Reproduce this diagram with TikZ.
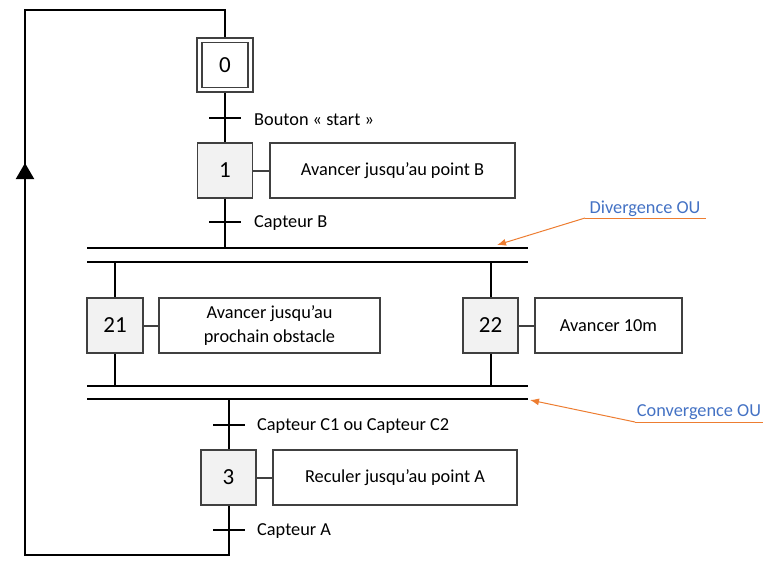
\documentclass[tikz,border=0pt]{standalone}
\usepackage{fontspec}
\setmainfont{Carlito}
\usetikzlibrary{arrows.meta}
\definecolor{boxgray}{HTML}{404040}
\definecolor{stepfill}{HTML}{F2F2F2}
\definecolor{annblue}{HTML}{4472C4}
\definecolor{annorange}{HTML}{ED7D31}
\tikzset{
  stepbox/.style={draw=boxgray, line width=1.2pt, fill=stepfill, minimum width=55pt, minimum height=55pt, inner sep=0pt, font=\fontsize{23}{26}\selectfont},
  actbox/.style={draw=boxgray, line width=1.2pt, fill=white, minimum height=55pt, inner sep=0pt, align=center, font=\fontsize{18.3}{24}\selectfont},
  trans/.style={fill=black, minimum width=32pt, minimum height=2pt, inner sep=0pt},
  lbl/.style={anchor=west, inner sep=0pt, font=\fontsize{18.3}{22}\selectfont},
  flow/.style={line width=2pt, black},
  link/.style={line width=2pt, boxgray},
  ann/.style={text=annblue, inner sep=0pt, font=\fontsize{18.3}{22}\selectfont},
  annline/.style={draw=annorange, line width=1pt},
}
\begin{document}
\begin{tikzpicture}[x=1pt, y=-1pt]
\useasboundingbox (0,0) rectangle (778,566);
% step 0 (initial)
\node[draw=boxgray, line width=1.2pt, minimum width=56pt, minimum height=54pt, inner sep=0pt] (s0) at (225,65) {};
\node[draw=boxgray, line width=1.2pt, minimum width=46pt, minimum height=45pt, inner sep=0pt, font=\fontsize{23}{26}\selectfont] (s0i) at (225,65) {0};
% step 1
\node[stepbox] (s1) at (225,170.5) {1};
\node[actbox, minimum width=245pt] (a1) at (392.5,170.5) {Avancer jusqu’au point B};
% steps 21 / 22
\node[stepbox, minimum width=56pt] (s21) at (115,325.5) {21};
\node[actbox, minimum width=221pt] (a21) at (269.5,325.5) {Avancer jusqu’au\\prochain obstacle};
\node[stepbox] (s22) at (490.5,325.5) {22};
\node[actbox, minimum width=147pt] (a22) at (608.5,325.5) {Avancer 10m};
% step 3
\node[stepbox] (s3) at (228.5,477.5) {3};
\node[actbox, minimum width=244pt] (a3) at (395,477.5) {Reculer jusqu’au point A};
% transitions
\node[trans] (t0) at (225,118) {};
\node[trans] (t1) at (225,222) {};
\node[trans] (t2) at (228.5,425) {};
\node[trans] (t3) at (228.5,530) {};
\node[lbl] (l0) at (254,119.5) {Bouton « start »};
\node[lbl] (l1) at (254,223.5) {Capteur B};
\node[lbl] (l2) at (257,426.5) {Capteur C1 ou Capteur C2};
\node[lbl] (l3) at (257,531.5) {Capteur A};
% double bars
\coordinate (d1L) at (87,248); \coordinate (d1R) at (528,248);
\coordinate (d2L) at (87,262); \coordinate (d2R) at (528,262);
\coordinate (c1L) at (87,386); \coordinate (c1R) at (528,386);
\coordinate (c2L) at (87,399); \coordinate (c2R) at (528,399);
\draw[flow] (d1L) -- (d1R);
\draw[flow] (d2L) -- (d2R);
\draw[flow] (c1L) -- (c1R);
\draw[flow] (c2L) -- (c2R);
% loop corners
\coordinate (top) at (225,10);
\coordinate (tl) at (25,10);
\coordinate (bl) at (25,555);
\coordinate (bot) at (228.5,555);
\coordinate (arrB) at (25,180);
\coordinate (arrT) at (25,163);
% flow lines
\draw[flow] (s0.north) -- (top) -- (tl) -- (bl) -- (bot) -- (s3.south);
\draw[flow, -{Triangle[length=16pt,width=18pt]}] (arrB) -- (arrT);
\draw[flow] (s0.south) -- (s1.north);
\draw[flow] (s1.south) -- (s1.south |- d1L);
\draw[flow] (s21.north |- d2L) -- (s21.north);
\draw[flow] (s22.north |- d2L) -- (s22.north);
\draw[flow] (s21.south) -- (s21.south |- c1L);
\draw[flow] (s22.south) -- (s22.south |- c1L);
\draw[flow] (s3.north |- c2L) -- (s3.north);
% step-action links
\draw[link] (s1.east) -- (a1.west);
\draw[link] (s21.east) -- (a21.west);
\draw[link] (s22.east) -- (a22.west);
\draw[link] (s3.east) -- (a3.west);
% annotations
\node[ann] (dv) at (645,208.5) {Divergence OU};
\coordinate (dvA) at (585,218); \coordinate (dvB) at (706,218);
\coordinate (dvT) at (497,245);
\draw[annline] (dvA) -- (dvB);
\draw[annline, -{Latex[length=9pt,width=7pt]}] (dvA) -- (dvT);
\node[ann] (cv) at (699,412.5) {Convergence OU};
\coordinate (cvA) at (635,422); \coordinate (cvB) at (763,422);
\coordinate (cvT) at (530,400);
\draw[annline] (cvA) -- (cvB);
\draw[annline, -{Latex[length=9pt,width=7pt]}] (cvA) -- (cvT);
\end{tikzpicture}
\end{document}
